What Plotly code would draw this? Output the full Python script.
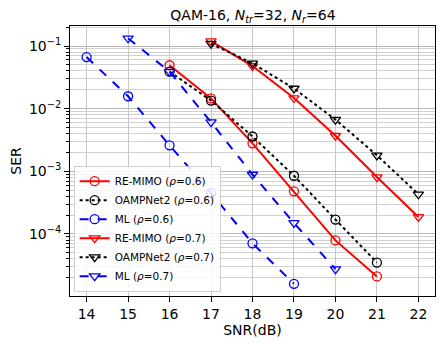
import plotly.graph_objects as go

snr = [14, 15, 16, 17, 18, 19, 20, 21, 22]

re_mimo_06_x = [16, 17, 18, 19, 20, 21]
re_mimo_06 = [0.0494, 0.0146, 0.0028, 4.8e-4, 7.9e-5, 2.1e-5]

oamp_06_x = [16, 17, 18, 19, 20, 21]
oamp_06 = [0.039, 0.0135, 0.0036, 8.5e-4, 1.7e-4, 3.5e-5]

ml_06_x = [14, 15, 16, 17, 18, 19]
ml_06 = [0.0667, 0.0158, 0.0026, 4.5e-4, 7.1e-5, 1.6e-5]

re_mimo_07_x = [17, 18, 19, 20, 21, 22]
re_mimo_07 = [0.12, 0.048, 0.0148, 0.0037, 8.1e-4, 1.87e-4]

oamp_07_x = [17, 18, 19, 20, 21, 22]
oamp_07 = [0.109, 0.053, 0.021, 0.0067, 0.0018, 4.3e-4]

ml_07_x = [15, 16, 17, 18, 19, 20]
ml_07 = [0.133, 0.039, 0.0061, 8.9e-4, 1.5e-4, 2.75e-5]

y_tickvals = [1e-1, 1e-2, 1e-3, 1e-4]
y_ticktext = ["10<sup>−1</sup>", "10<sup>−2</sup>", "10<sup>−3</sup>", "10<sup>−4</sup>"]

series = [
    (re_mimo_06_x, re_mimo_06, "RE-MIMO (<i>ρ</i>=0.6)", "#ff0000", "solid", "circle-open"),
    (oamp_06_x, oamp_06, "OAMPNet2 (<i>ρ</i>=0.6)", "#000000", "dot", "circle-open"),
    (ml_06_x, ml_06, "ML (<i>ρ</i>=0.6)", "#0000ff", "dash", "circle-open"),
    (re_mimo_07_x, re_mimo_07, "RE-MIMO (<i>ρ</i>=0.7)", "#ff0000", "solid", "triangle-down-open"),
    (oamp_07_x, oamp_07, "OAMPNet2 (<i>ρ</i>=0.7)", "#000000", "dot", "triangle-down-open"),
    (ml_07_x, ml_07, "ML (<i>ρ</i>=0.7)", "#0000ff", "dash", "triangle-down-open"),
]

fig = go.Figure()
for x, y, name, color, dash, sym in series:
    fig.add_trace(go.Scatter(
        x=x, y=y, name=name, mode="lines+markers",
        line=dict(color=color, dash=dash, width=2),
        marker=dict(symbol=sym, size=9, color=color, line=dict(width=1.3, color=color)),
    ))

font_family = "DejaVu Sans"
fig.update_layout(
    width=443, height=346,
    margin=dict(l=70, r=8, t=26, b=50),
    paper_bgcolor="white", plot_bgcolor="white",
    font=dict(family=font_family, size=14, color="black"),
    title=dict(text="QAM-16, <i>N</i><sub><i>tr</i></sub>=32, <i>N</i><sub><i>r</i></sub>=64",
               x=0.571, xanchor="center", y=0.955, yanchor="middle",
               font=dict(size=14, family=font_family)),
    showlegend=True,
    legend=dict(x=0.01, y=0.016, xanchor="left", yanchor="bottom",
                bgcolor="rgba(255,255,255,0.85)", bordercolor="#d0d0d0", borderwidth=1,
                font=dict(size=10.5, family=font_family), tracegroupgap=0,
                itemwidth=30),
)
fig.update_xaxes(
    range=[13.6, 22.4], tickvals=snr, ticks="outside", ticklen=5, tickcolor="black",
    showline=True, linecolor="black", linewidth=1, mirror=True,
    showgrid=True, gridcolor="#c8c8c8", gridwidth=1, zeroline=False,
    title=dict(text="SNR(dB)", font=dict(size=14), standoff=4),
    tickfont=dict(size=14),
)
fig.update_yaxes(
    type="log", range=[-4.99, -0.68], tickvals=y_tickvals, ticktext=y_ticktext,
    ticks="outside", ticklen=5, tickcolor="black",
    showline=True, linecolor="black", linewidth=1, mirror=True,
    showgrid=True, gridcolor="#b8b8b8", gridwidth=1, zeroline=False,
    minor=dict(dtick="D1", showgrid=True, gridcolor="#d0d0d0", gridwidth=1,
               ticks="outside", ticklen=3, tickcolor="black"),
    title=dict(text="SER", font=dict(size=14), standoff=4),
    tickfont=dict(size=14),
)

fig.write_html("out.html", config={"displayModeBar": False},
               post_script="document.body.style.margin='0';")
